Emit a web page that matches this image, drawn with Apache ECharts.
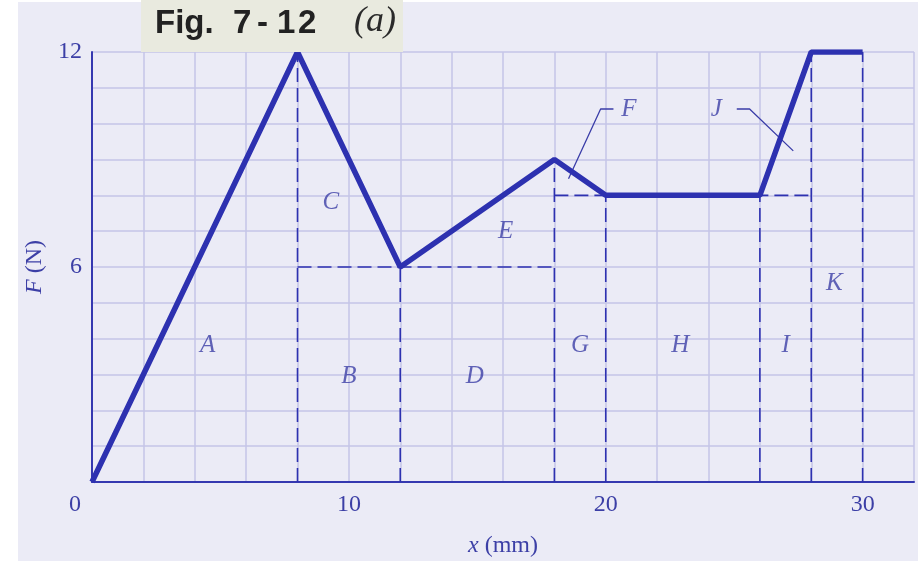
<!DOCTYPE html>
<html>
<head>
<meta charset="utf-8">
<script src="https://cdn.jsdelivr.net/npm/echarts@6/dist/echarts.min.js"></script>
<style>
  html, body { margin: 0; padding: 0; background: #fff; }
  #chart { width: 918px; height: 561px; }
</style>
</head>
<body>
<div id="chart"></div>
<script>
// force curve, F (N) against x (mm)
const curveX = [0, 8, 12, 18, 20, 26, 28, 30]
const curveF = [0, 12, 6, 9, 8, 8, 12, 12]

// dashed guide lines, each one a pair of [x, F] points
const guides = [
  [[8, 0], [8, 12]],
  [[12, 0], [12, 6]],
  [[8, 6], [18, 6]],
  [[18, 0], [18, 9]],
  [[18, 8], [28, 8]],
  [[20, 0], [20, 8]],
  [[26, 0], [26, 8]],
  [[28, 0], [28, 12]],
  [[30, 0], [30, 12]]
]

// region letters
const regionNames = ['A', 'B', 'C', 'D', 'E', 'G', 'H', 'I', 'K', 'F', 'J']
const regionX = [4.5, 10, 9.3, 14.9, 16.1, 19.0, 22.9, 27.0, 28.9, 20.9, 24.3]
const regionF = [3.8, 2.95, 7.8, 2.95, 7.0, 3.8, 3.8, 3.8, 5.55, 10.4, 10.4]

// leader lines for F and J
const leaderF = [[20.3, 10.41], [19.8, 10.41], [18.55, 8.46]]
const leaderJ = [[25.1, 10.41], [25.6, 10.41], [27.3, 9.24]]

const xTickLabels = [10, 20, 30]
const yTickLabels = [6, 12]

const blue = '#2d31b0'
const textBlue = '#3c3fa6'
const serif = '"Liberation Serif", "DejaVu Serif", serif'

const chart = echarts.init(document.getElementById('chart'))

const series = [
  {
    type: 'line',
    data: curveX.map((x, i) => [x, curveF[i]]),
    symbol: 'none',
    lineStyle: { color: blue, width: 5.5 },
    z: 5
  }
]
guides.forEach(g => {
  series.push({
    type: 'line',
    data: g,
    symbol: 'none',
    lineStyle: { color: blue, width: 1.6, type: [14, 6] },
    z: 3
  })
})
;[leaderF, leaderJ].forEach(l => {
  series.push({
    type: 'line',
    data: l,
    symbol: 'none',
    lineStyle: { color: '#3a3da8', width: 1.3 },
    z: 4
  })
})
series.push({
  type: 'scatter',
  symbolSize: 0,
  data: regionNames.map((n, i) => ({ name: n, value: [regionX[i], regionF[i]] })),
  label: {
    show: true,
    position: 'inside',
    formatter: '{b}',
    color: textBlue,
    fontFamily: serif,
    fontStyle: 'italic',
    fontSize: 25
  },
  z: 6
})

// title pieces, spaced like the printed caption
const titleFont = 'bold 33px "Liberation Sans", Arial, sans-serif'
const titleParts = [['Fig.', 155], ['7', 233], ['-', 257], ['1', 277], ['2', 298]]

const option = {
  backgroundColor: '#ffffff',
  animation: false,
  grid: { left: 92, right: 4, top: 52, bottom: 79, outerBoundsMode: 'none' },
  xAxis: {
    type: 'value',
    min: 0,
    max: 32,
    interval: 2,
    name: '{i|x} (mm)',
    nameLocation: 'middle',
    nameGap: 52,
    nameTextStyle: {
      color: textBlue, fontFamily: serif, fontSize: 24,
      rich: { i: { fontStyle: 'italic', color: textBlue, fontFamily: serif, fontSize: 24 } }
    },
    axisLine: { lineStyle: { color: '#3538b0', width: 2 } },
    axisTick: { show: false },
    axisLabel: {
      color: textBlue,
      fontFamily: serif,
      fontSize: 24,
      margin: 11,
      formatter: v => xTickLabels.includes(v) ? String(v) : ''
    },
    splitLine: { lineStyle: { color: '#c5c5e7', width: 1.5 } }
  },
  yAxis: {
    type: 'value',
    min: 0,
    max: 12,
    interval: 1,
    name: '{i|F} (N)',
    nameLocation: 'middle',
    nameGap: 44,
    nameRotate: 90,
    nameTextStyle: {
      color: textBlue, fontFamily: serif, fontSize: 24,
      rich: { i: { fontStyle: 'italic', color: textBlue, fontFamily: serif, fontSize: 24 } }
    },
    axisLine: { show: true, lineStyle: { color: '#3538b0', width: 2 } },
    axisTick: { show: false },
    axisLabel: {
      color: textBlue,
      fontFamily: serif,
      fontSize: 24,
      margin: 10,
      formatter: v => yTickLabels.includes(v) ? String(v) : ''
    },
    splitLine: { lineStyle: { color: '#c5c5e7', width: 1.5 } }
  },
  graphic: [
    {
      type: 'rect',
      left: 18, top: 2,
      shape: { width: 900, height: 559 },
      style: { fill: '#ebebf6' },
      z: -10,
      silent: true
    },
    {
      type: 'rect',
      left: 141, top: 0,
      shape: { width: 262, height: 52 },
      style: { fill: '#e9eadf' },
      z: 100
    },
    ...titleParts.map(p => ({
      type: 'text',
      left: p[1], top: 7,
      style: { text: p[0], font: titleFont, fill: '#222222' },
      z: 101
    })),
    {
      type: 'text',
      left: 354, top: 4,
      style: { text: '(a)', font: 'italic 36px "Liberation Serif", serif', fill: '#2a2a2a' },
      z: 101
    },
    {
      type: 'text',
      left: 69, top: 493,
      style: { text: '0', font: '24px "Liberation Serif", serif', fill: textBlue },
      z: 101
    }
  ],
  series: series
}

chart.setOption(option)
</script>
</body>
</html>
